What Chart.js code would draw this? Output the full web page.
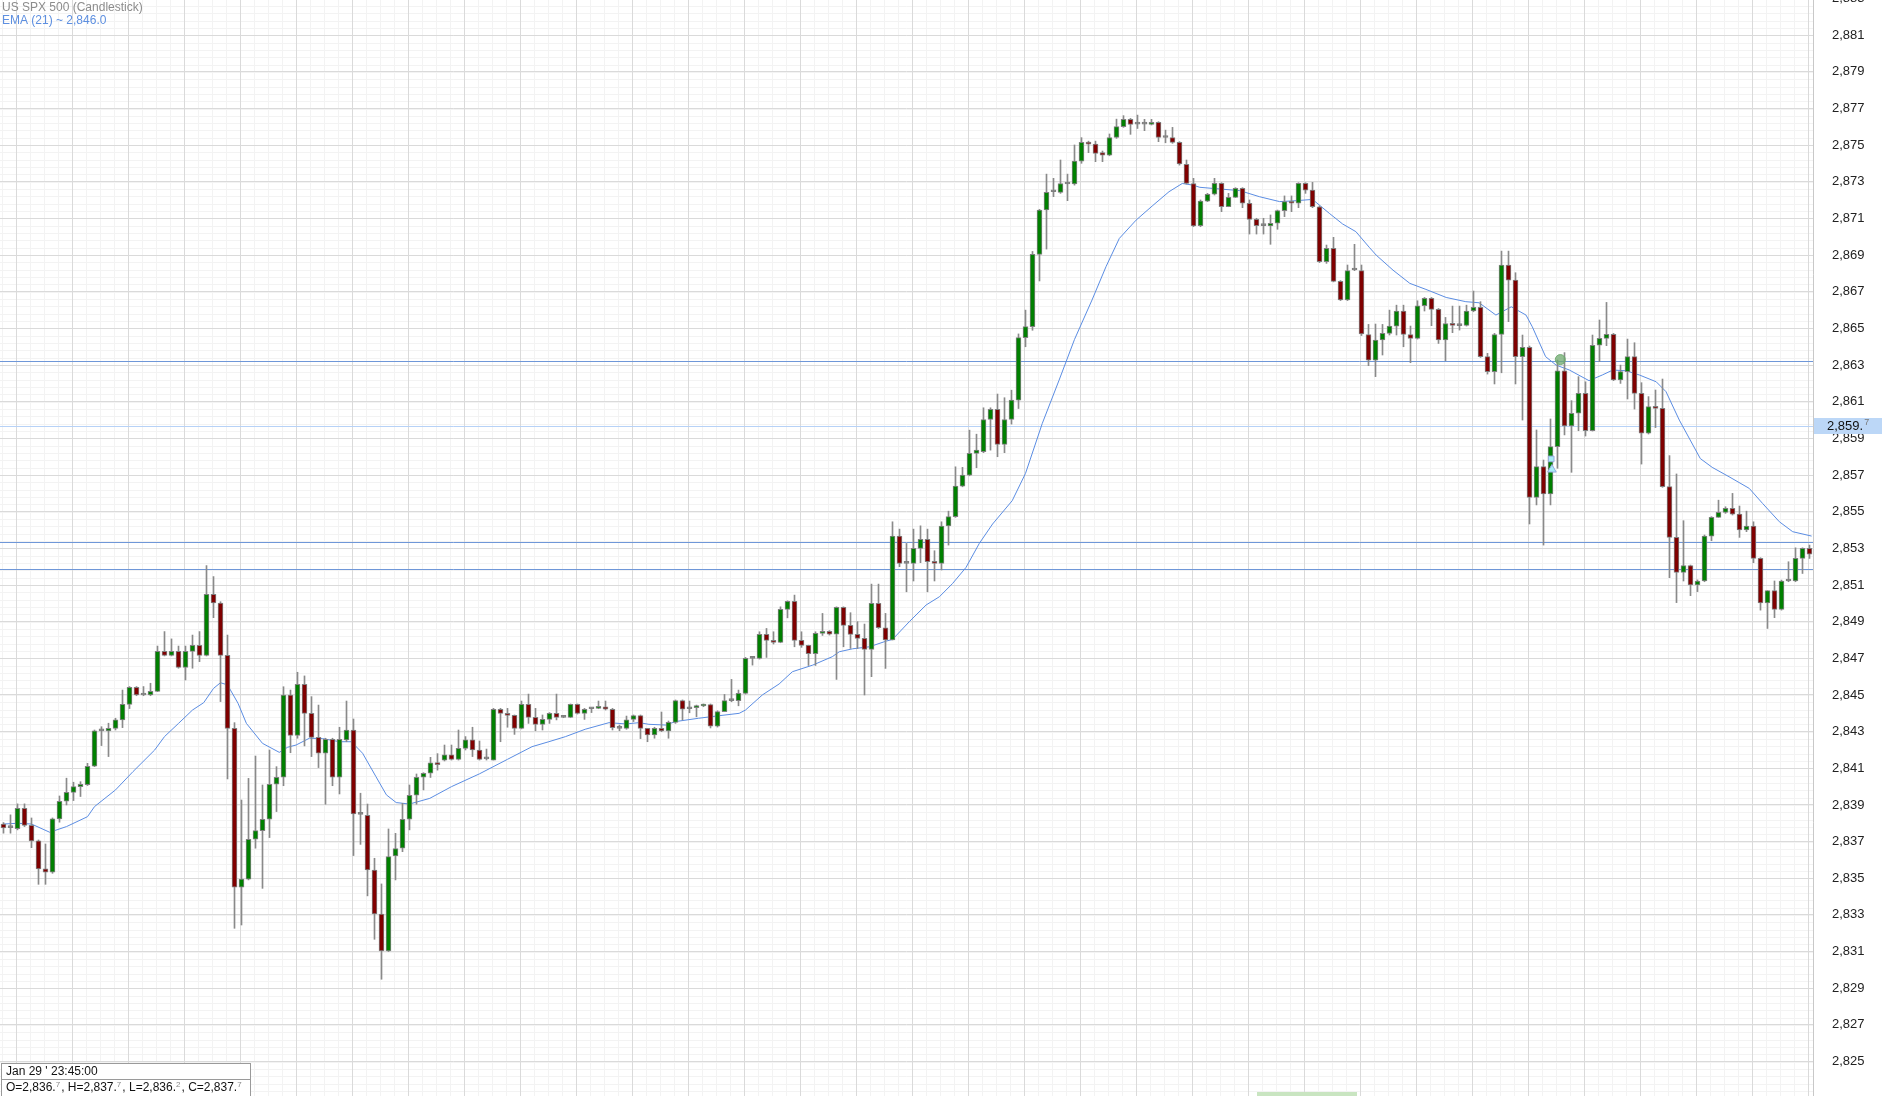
<!DOCTYPE html>
<html>
<head>
<meta charset="utf-8">
<script src="https://cdn.jsdelivr.net/npm/chart.js@4.4.0/dist/chart.umd.min.js"></script>
<style>
html, body { margin: 0; padding: 0; background: #fff; overflow: hidden; }
canvas { display: block; }
</style>
</head>
<body>
<canvas id="chartSpx" width="1882" height="1096"></canvas>
<script>
// US SPX 500, 15 min candles
var opens = [
	2837.96, 2837.76, 2837.71, 2838.82, 2837.89, 2837.04, 2835.51, 2835.33, 2838.24, 2839.2,
	2839.69, 2840.0, 2840.11, 2841.11, 2843.04, 2843.04, 2843.18, 2843.64, 2844.49, 2845.42,
	2845.0, 2845.0, 2845.2, 2847.38, 2847.16, 2847.38, 2846.51, 2847.38, 2847.71, 2847.16,
	2850.49, 2850.02, 2847.16, 2843.18, 2834.51, 2834.95, 2837.13, 2837.6, 2838.22, 2840.13,
	2840.51, 2845.0, 2842.8, 2845.58, 2844.0, 2842.69, 2841.82, 2842.58, 2840.51, 2842.55,
	2843.09, 2838.49, 2838.44, 2835.45, 2833.05, 2831.04, 2836.22, 2836.64, 2838.22, 2839.53,
	2840.51, 2840.73, 2841.3, 2841.45, 2841.73, 2841.49, 2842.09, 2842.55, 2842.0, 2841.51,
	2841.45, 2844.22, 2844.0, 2843.89, 2843.18, 2844.49, 2843.78, 2843.4, 2843.67, 2844.0,
	2843.78, 2843.78, 2844.49, 2844.0, 2844.25, 2844.27, 2844.36, 2844.22, 2843.18, 2843.18,
	2843.67, 2843.87, 2843.18, 2842.82, 2843.18, 2843.04, 2843.51, 2844.69, 2844.25, 2844.31,
	2844.4, 2844.47, 2843.3, 2844.09, 2844.69, 2844.69, 2845.09, 2847.0, 2847.0, 2848.31,
	2847.98, 2847.87, 2849.67, 2850.11, 2847.98, 2847.71, 2847.25, 2848.36, 2848.47, 2848.32,
	2849.78, 2848.8, 2848.31, 2848.09, 2847.49, 2850.0, 2848.67, 2848.0, 2853.67, 2852.18,
	2852.18, 2853.0, 2853.49, 2852.27, 2852.18, 2854.22, 2854.73, 2856.4, 2857.0, 2858.18,
	2858.27, 2860.03, 2860.58, 2858.67, 2860.03, 2861.09, 2864.5, 2865.1, 2869.04, 2871.46,
	2872.46, 2872.42, 2872.88, 2872.88, 2874.13, 2875.15, 2875.06, 2874.59, 2874.46, 2875.42,
	2876.01, 2876.41, 2876.15, 2876.15, 2876.13, 2876.24, 2875.42, 2875.42, 2875.15, 2873.95,
	2872.91, 2870.61, 2871.95, 2872.32, 2872.92, 2871.64, 2872.15, 2872.64, 2871.83, 2870.95,
	2870.61, 2870.59, 2870.74, 2871.43, 2871.92, 2871.83, 2872.92, 2872.55, 2871.64, 2868.64,
	2869.37, 2867.57, 2866.55, 2868.19, 2868.15, 2864.67, 2863.27, 2864.37, 2864.73, 2865.13,
	2865.95, 2864.67, 2864.46, 2866.24, 2866.64, 2866.04, 2864.37, 2865.27, 2865.15, 2865.17,
	2865.95, 2866.15, 2863.46, 2862.64, 2864.67, 2868.46, 2867.64, 2863.46, 2863.97, 2855.78,
	2857.46, 2855.97, 2858.55, 2862.68, 2859.68, 2860.37, 2861.46, 2859.42, 2864.08, 2864.46,
	2864.68, 2862.19, 2862.64, 2863.46, 2861.46, 2859.28, 2860.73, 2860.64, 2856.37, 2853.6,
	2851.69, 2852.06, 2851.0, 2851.22, 2853.67, 2854.69, 2854.96, 2855.18, 2854.87, 2854.0,
	2854.22, 2852.45, 2850.03, 2850.69, 2849.67, 2851.22, 2851.22, 2852.45, 2853.0
];
var highs = [
	2838.04, 2838.46, 2839.06, 2839.06, 2838.29, 2837.09, 2836.87, 2838.29, 2839.49, 2840.46,
	2840.24, 2840.27, 2841.27, 2843.09, 2843.27, 2843.46, 2843.73, 2845.27, 2845.46, 2845.46,
	2845.46, 2845.64, 2847.67, 2848.46, 2848.06, 2847.67, 2847.67, 2848.27, 2848.46, 2852.06,
	2851.46, 2850.09, 2848.27, 2843.49, 2839.27, 2840.45, 2841.67, 2840.09, 2842.0, 2841.09,
	2845.45, 2845.27, 2846.24, 2846.04, 2844.91, 2844.45, 2842.64, 2842.64, 2843.24, 2844.67,
	2843.69, 2839.64, 2839.05, 2836.09, 2834.69, 2837.69, 2837.45, 2839.09, 2840.09, 2840.69,
	2840.76, 2841.6, 2841.8, 2842.27, 2842.27, 2843.09, 2842.73, 2843.24, 2842.49, 2842.05,
	2844.27, 2844.27, 2844.27, 2843.91, 2844.67, 2845.05, 2844.27, 2843.91, 2844.04, 2845.05,
	2843.85, 2844.51, 2844.51, 2844.27, 2844.31, 2844.67, 2844.67, 2844.27, 2843.36, 2843.85,
	2843.91, 2843.91, 2843.18, 2843.24, 2844.07, 2843.58, 2844.73, 2844.73, 2844.67, 2844.45,
	2844.51, 2844.51, 2844.14, 2845.03, 2845.85, 2845.27, 2847.05, 2847.09, 2848.45, 2848.63,
	2848.45, 2849.81, 2850.14, 2850.45, 2848.45, 2847.72, 2848.45, 2849.45, 2848.51, 2849.81,
	2849.81, 2849.49, 2849.0, 2848.87, 2851.05, 2851.05, 2849.45, 2854.45, 2854.05, 2853.27,
	2854.05, 2854.23, 2854.05, 2852.87, 2854.45, 2855.03, 2857.45, 2857.42, 2859.45, 2859.23,
	2860.67, 2860.67, 2861.42, 2861.22, 2861.63, 2864.7, 2866.0, 2869.2, 2871.5, 2873.42,
	2873.19, 2874.19, 2873.42, 2875.01, 2875.41, 2875.22, 2875.22, 2874.68, 2875.61, 2876.42,
	2876.61, 2876.46, 2876.64, 2876.41, 2876.41, 2876.28, 2875.82, 2875.97, 2875.19, 2874.19,
	2873.19, 2872.01, 2872.37, 2873.19, 2872.95, 2872.37, 2872.68, 2872.68, 2872.01, 2871.01,
	2871.01, 2871.19, 2871.46, 2872.23, 2872.23, 2872.95, 2872.95, 2872.97, 2871.68, 2869.55,
	2869.97, 2867.61, 2868.46, 2869.59, 2868.46, 2865.22, 2865.24, 2865.22, 2866.0, 2866.27,
	2866.27, 2865.13, 2866.51, 2866.69, 2866.69, 2866.09, 2865.6, 2866.22, 2866.22, 2866.27,
	2867.04, 2866.46, 2863.64, 2864.73, 2869.22, 2869.22, 2868.04, 2864.64, 2864.04, 2859.46,
	2857.82, 2860.06, 2863.28, 2863.68, 2861.06, 2862.37, 2862.09, 2864.64, 2865.46, 2866.42,
	2864.73, 2863.0, 2864.42, 2864.22, 2862.04, 2861.28, 2861.64, 2862.24, 2858.06, 2857.06,
	2854.51, 2852.09, 2851.28, 2853.73, 2854.73, 2855.63, 2855.27, 2856.0, 2855.31, 2855.03,
	2854.45, 2852.49, 2850.69, 2851.22, 2851.27, 2852.27, 2853.03, 2853.03, 2853.18
];
var lows = [
	2837.46, 2837.46, 2837.64, 2837.82, 2836.67, 2834.67, 2834.67, 2835.27, 2838.06, 2839.0,
	2839.24, 2839.46, 2840.06, 2841.09, 2842.24, 2841.64, 2843.09, 2843.22, 2844.26, 2844.96,
	2844.96, 2844.96, 2845.18, 2847.13, 2847.13, 2846.46, 2845.82, 2846.46, 2846.82, 2847.13,
	2849.22, 2844.64, 2840.42, 2832.27, 2832.45, 2834.91, 2836.64, 2834.45, 2837.22, 2838.64,
	2840.05, 2841.85, 2842.64, 2842.22, 2841.64, 2841.04, 2839.04, 2840.05, 2839.6, 2842.45,
	2836.24, 2836.85, 2834.04, 2831.67, 2829.49, 2831.0, 2834.91, 2836.45, 2837.64, 2839.04,
	2839.82, 2840.5, 2840.9, 2841.4, 2841.45, 2841.45, 2842.0, 2841.64, 2841.45, 2841.45,
	2841.45, 2842.45, 2843.24, 2842.85, 2843.15, 2843.45, 2843.05, 2843.09, 2843.45, 2843.64,
	2843.76, 2843.76, 2843.96, 2843.67, 2844.04, 2844.25, 2844.18, 2843.09, 2843.05, 2843.13,
	2843.55, 2842.62, 2842.45, 2842.64, 2843.0, 2842.64, 2843.45, 2843.64, 2844.03, 2843.81,
	2844.36, 2843.2, 2843.25, 2844.12, 2844.63, 2844.41, 2845.05, 2846.63, 2846.96, 2847.05,
	2847.78, 2847.85, 2849.21, 2847.63, 2847.6, 2846.61, 2846.61, 2848.25, 2848.27, 2845.85,
	2847.63, 2847.54, 2847.54, 2845.0, 2846.0, 2848.63, 2846.45, 2848.0, 2852.0, 2850.63,
	2851.22, 2852.22, 2850.63, 2851.22, 2851.82, 2853.18, 2854.69, 2856.36, 2856.96, 2857.4,
	2858.22, 2858.36, 2858.0, 2858.22, 2859.78, 2860.63, 2864.0, 2864.9, 2867.59, 2869.33,
	2872.19, 2872.37, 2871.97, 2872.82, 2874.01, 2874.59, 2874.1, 2874.1, 2874.42, 2875.37,
	2875.97, 2875.59, 2875.91, 2875.79, 2876.1, 2875.19, 2875.13, 2875.1, 2873.91, 2872.88,
	2870.55, 2870.55, 2871.92, 2872.28, 2871.37, 2871.64, 2872.14, 2871.59, 2870.15, 2870.15,
	2870.15, 2869.59, 2870.41, 2871.1, 2871.37, 2871.59, 2872.37, 2871.59, 2868.59, 2868.55,
	2867.54, 2866.52, 2866.52, 2868.15, 2864.61, 2862.97, 2862.37, 2863.55, 2864.64, 2864.64,
	2864.0, 2863.13, 2864.42, 2865.95, 2865.15, 2864.18, 2863.24, 2864.77, 2864.91, 2865.13,
	2865.91, 2863.42, 2862.51, 2861.97, 2862.58, 2865.37, 2861.97, 2860.0, 2854.33, 2855.37,
	2853.18, 2855.37, 2857.37, 2859.19, 2857.15, 2859.42, 2859.13, 2859.4, 2863.19, 2864.06,
	2862.15, 2862.0, 2861.15, 2860.6, 2857.6, 2859.24, 2859.59, 2856.33, 2851.4, 2850.04,
	2851.22, 2850.42, 2850.64, 2851.18, 2853.42, 2854.69, 2854.91, 2854.82, 2853.6, 2853.91,
	2852.22, 2849.63, 2848.63, 2849.22, 2849.63, 2851.18, 2851.18, 2851.63, 2852.45
];
var closes = [
	2837.75, 2837.76, 2838.82, 2837.89, 2837.04, 2835.51, 2835.33, 2838.24, 2839.2, 2839.69,
	2840.0, 2840.13, 2841.11, 2843.04, 2843.04, 2843.18, 2843.64, 2844.49, 2845.42, 2845.0,
	2845.0, 2845.2, 2847.38, 2847.16, 2847.38, 2846.51, 2847.38, 2847.71, 2847.16, 2850.49,
	2850.02, 2847.16, 2843.18, 2834.51, 2834.95, 2837.13, 2837.6, 2838.22, 2840.13, 2840.51,
	2845.0, 2842.8, 2845.58, 2844.0, 2842.69, 2841.82, 2842.58, 2840.51, 2842.58, 2843.09,
	2838.51, 2838.49, 2835.45, 2833.05, 2831.04, 2836.18, 2836.62, 2838.22, 2839.53, 2840.51,
	2840.73, 2841.3, 2841.2, 2841.73, 2841.49, 2842.09, 2842.55, 2842.0, 2841.49, 2841.51,
	2844.22, 2844.0, 2843.89, 2843.18, 2844.49, 2843.78, 2843.4, 2843.67, 2844.0, 2843.78,
	2843.78, 2844.49, 2844.0, 2844.22, 2844.25, 2844.38, 2844.22, 2843.22, 2843.18, 2843.64,
	2843.87, 2843.18, 2842.82, 2843.18, 2843.04, 2843.51, 2844.69, 2844.22, 2844.25, 2844.4,
	2844.47, 2843.3, 2844.09, 2844.69, 2844.69, 2845.09, 2847.0, 2847.0, 2848.31, 2847.98,
	2847.87, 2849.67, 2850.11, 2847.98, 2847.71, 2847.25, 2848.36, 2848.47, 2848.32, 2849.78,
	2848.8, 2848.31, 2848.09, 2847.49, 2850.0, 2848.67, 2848.0, 2853.67, 2852.18, 2852.18,
	2853.0, 2853.49, 2852.27, 2852.18, 2854.22, 2854.73, 2856.4, 2857.0, 2858.18, 2858.36,
	2860.03, 2860.58, 2858.67, 2860.03, 2861.09, 2864.5, 2865.1, 2869.04, 2871.46, 2872.42,
	2872.46, 2872.91, 2872.88, 2874.13, 2875.15, 2875.06, 2874.55, 2874.46, 2875.42, 2876.01,
	2876.41, 2876.13, 2876.15, 2876.15, 2876.24, 2875.42, 2875.42, 2875.15, 2873.97, 2872.91,
	2870.59, 2871.95, 2872.32, 2872.92, 2871.64, 2872.15, 2872.64, 2871.83, 2870.95, 2870.61,
	2870.61, 2870.74, 2871.43, 2871.92, 2871.83, 2872.92, 2872.55, 2871.64, 2868.64, 2869.37,
	2867.57, 2866.55, 2868.15, 2868.19, 2864.7, 2863.27, 2864.37, 2864.73, 2865.13, 2865.95,
	2864.67, 2864.46, 2866.24, 2866.64, 2866.04, 2864.37, 2865.27, 2865.17, 2865.15, 2865.95,
	2866.15, 2863.46, 2862.64, 2864.67, 2868.46, 2867.64, 2863.46, 2863.97, 2855.78, 2857.46,
	2855.97, 2858.55, 2862.68, 2859.68, 2860.37, 2861.46, 2859.42, 2864.08, 2864.46, 2864.68,
	2862.19, 2862.64, 2863.46, 2861.46, 2859.28, 2860.73, 2860.64, 2856.37, 2853.6, 2851.69,
	2852.06, 2851.0, 2851.22, 2853.67, 2854.69, 2854.96, 2855.18, 2854.87, 2854.0, 2854.22,
	2852.45, 2850.03, 2850.69, 2849.67, 2851.22, 2851.22, 2852.45, 2853.0, 2852.69
];

// EMA(21) read at candle positions (fractional = between candles)
var emaAt = [
	0, 2, 4, 6.6, 9, 12, 13, 16, 18.5, 21.6, 23, 25, 27, 28.6, 30, 31, 32, 33.5, 34.7, 37,
	39.4, 40.6, 41.8, 43.7, 45.6, 48, 49.7, 51.3, 53.2, 54.7, 56.1, 58, 60.9, 64, 68, 72,
	75.5, 77.9, 80.3, 83.1, 86.5, 88.9, 90.8, 92.2, 94.6, 96, 99.3, 101.8, 105.1, 106,
	108.4, 110.8, 112.7, 115.6, 118.4, 119.4, 121.3, 123.7, 126.1, 127, 129.4, 131.8,
	133.7, 135.6, 137.5, 139.4, 141.3, 144.1, 146, 148.4, 150.8, 153, 155.5, 157.5, 159.4,
	161.8, 164.1, 166.5, 168.4, 169.9, 170.9, 173.7, 176.6, 179.4, 182.3, 184.7, 187,
	189.4, 191.3, 193.2, 195.1, 196.1, 198.5, 200.9, 203.2, 206.1, 208.9, 210.8, 213.2,
	215.4, 217.5, 218.4, 220.3, 221.8, 223.7, 226.5, 228.4, 229.9, 231.8, 233.7, 236.1,
	237.5, 239.4, 242.4, 244.1, 246.5, 249.4, 251.3, 253.7, 255.6, 258.3
];
var emaValues = [
	2837.96, 2838.0, 2837.96, 2837.51, 2837.82, 2838.36, 2838.91, 2839.82, 2840.82, 2842.0,
	2842.73, 2843.45, 2844.18, 2844.58, 2845.36, 2845.67, 2845.55, 2844.55, 2843.45, 2842.36,
	2841.87, 2842.15, 2842.27, 2842.64, 2842.62, 2842.45, 2842.45, 2841.82, 2840.55, 2839.55,
	2839.13, 2839.05, 2839.36, 2840.0, 2840.7, 2841.49,
	2842.18, 2842.45, 2842.73, 2843.13, 2843.49, 2843.42, 2843.49, 2843.4, 2843.36, 2843.55,
	2843.73, 2843.85, 2844.0, 2844.18,
	2845.0, 2845.6, 2846.27, 2846.63, 2847.09, 2847.36, 2847.52, 2847.63, 2847.94, 2848.03,
	2849.0, 2849.91,
	2850.36, 2851.09, 2851.96, 2853.27, 2854.33, 2855.6, 2857.09, 2859.82, 2862.18, 2864.4,
	2866.55, 2868.37, 2869.91,
	2870.91, 2871.68, 2872.46, 2872.91, 2872.82, 2872.7, 2872.61, 2872.52, 2872.19, 2871.92,
	2871.97, 2872.04,
	2871.28, 2870.7, 2870.28, 2869.43, 2869.0, 2868.18, 2867.46, 2867.13, 2866.69, 2866.46,
	2866.4, 2865.73,
	2866.18, 2865.73, 2865.09, 2863.46, 2863.0, 2862.73, 2862.15, 2862.46, 2862.73, 2862.69,
	2862.46, 2862.09,
	2861.55, 2860.0, 2857.9, 2857.42, 2856.91, 2856.27, 2855.45, 2854.45, 2853.91, 2853.67
];

var categories = [];
for (var i = 0; i < opens.length; i++) {
	categories.push('' + i);
}

var yTicks = [2825, 2827, 2829, 2831, 2833, 2835, 2837, 2839, 2841, 2843, 2845, 2847, 2849,
	2851, 2853, 2855, 2857, 2859, 2861, 2863, 2865, 2867, 2869, 2871, 2873, 2875, 2877,
	2879, 2881, 2883];
var yMin = 2823.12;
var yMax = 2882.92;

// horizontal levels drawn on the chart
var levelLines = [2863.2, 2853.33, 2851.9];
var lastPrice = 2859.7;

// markers near the right side
var circleX = [222.4], circleY = [2863.3];
var squareX = [221.1], squareY = [2857.88];
var triangleX = [221.2], triangleY = [2857.3];

var upColor = '#008000';
var downColor = '#800000';
var flatColor = '#808080';

var bodyColors = [];
for (var i = 0; i < opens.length; i++) {
	if (closes[i] > opens[i]) bodyColors.push(upColor);
	else if (closes[i] < opens[i]) bodyColors.push(downColor);
	else bodyColors.push(flatColor);
}

var toPoints = function(xs, ys) {
	var pts = [];
	for (var i = 0; i < xs.length; i++) pts.push({x: xs[i], y: ys[i]});
	return pts;
};

var fmt = function(v) {
	var s = '' + Math.round(v);
	return s.slice(0, 1) + ',' + s.slice(1);
};

var FONT = '"Liberation Sans", Arial, sans-serif';

var decorations = {
	id: 'decorations',
	beforeDraw: function(chart) {
		var ctx = chart.ctx, a = chart.chartArea;
		var xl = chart.scales.xl, y = chart.scales.y;
		ctx.save();
		ctx.fillStyle = '#ffffff';
		ctx.fillRect(0, 0, chart.width, chart.height);
		// faint minor grid
		ctx.strokeStyle = '#f3f3f3';
		ctx.lineWidth = 1;
		ctx.beginPath();
		for (var v = 2823; v < 2884; v += 0.4) {
			var py = Math.round(y.getPixelForValue(v)) + 0.5;
			ctx.moveTo(a.left, py); ctx.lineTo(a.right, py);
		}
		for (var g = 1.74 - 8; g < 259; g += 2) {
			var px = Math.round(xl.getPixelForValue(g)) + 0.5;
			if (px < a.left || px > a.right) continue;
			ctx.moveTo(px, a.top); ctx.lineTo(px, a.bottom);
		}
		ctx.stroke();
		// major vertical grid, every 8 candles
		ctx.strokeStyle = '#dadada';
		ctx.beginPath();
		for (var g = 1.74; g < 259; g += 8) {
			var px = Math.round(xl.getPixelForValue(g)) + 0.5;
			ctx.moveTo(px, a.top); ctx.lineTo(px, a.bottom);
		}
		ctx.stroke();
		ctx.restore();
	},
	beforeDatasetsDraw: function(chart) {
		var ctx = chart.ctx, a = chart.chartArea, y = chart.scales.y;
		ctx.save();
		ctx.lineWidth = 1;
		ctx.strokeStyle = '#b7d2f7';
		var py = Math.round(y.getPixelForValue(lastPrice)) + 0.5;
		ctx.beginPath(); ctx.moveTo(a.left, py); ctx.lineTo(a.right, py); ctx.stroke();
		ctx.strokeStyle = '#6f97d8';
		for (var i = 0; i < levelLines.length; i++) {
			py = Math.round(y.getPixelForValue(levelLines[i])) + 0.5;
			ctx.beginPath(); ctx.moveTo(a.left, py); ctx.lineTo(a.right, py); ctx.stroke();
		}
		ctx.restore();
	},
	afterDraw: function(chart) {
		var ctx = chart.ctx, a = chart.chartArea, y = chart.scales.y;
		ctx.save();
		ctx.textBaseline = 'middle';

		// top label that falls half outside the plot
		ctx.font = '13px ' + FONT;
		ctx.fillStyle = '#222';
		ctx.textAlign = 'left';
		ctx.fillText(fmt(2883), a.right + 19, y.getPixelForValue(2883));

		// last price box on the axis
		var py = y.getPixelForValue(lastPrice);
		ctx.fillStyle = '#bcd7f7';
		ctx.fillRect(a.right + 1, Math.round(py) - 8, chart.width - a.right - 1, 16);
		ctx.fillStyle = '#111';
		ctx.textAlign = 'left';
		ctx.fillText('2,859.', a.right + 14, py + 1);
		var w = ctx.measureText('2,859.').width;
		ctx.font = '9px ' + FONT;
		ctx.fillStyle = '#777';
		ctx.fillText('7', a.right + 14 + w + 1, py - 3);

		// titles
		ctx.font = '12px ' + FONT;
		ctx.textAlign = 'left';
		ctx.fillStyle = '#8c8c8c';
		ctx.fillText('US SPX 500 (Candlestick)', 2, 8);
		ctx.fillStyle = '#5d8fe0';
		ctx.fillText('EMA (21) ~ 2,846.0', 2, 21);

		// info box bottom left
		ctx.fillStyle = '#ffffff';
		ctx.fillRect(1, 1063, 250, 33);
		ctx.strokeStyle = '#9a9a9a';
		ctx.lineWidth = 1;
		ctx.strokeRect(1.5, 1063.5, 249, 40);
		ctx.beginPath(); ctx.moveTo(1.5, 1079.5); ctx.lineTo(250.5, 1079.5); ctx.stroke();
		ctx.fillStyle = '#111';
		ctx.font = '12px ' + FONT;
		ctx.fillText("Jan 29 ' 23:45:00", 6, 1071.5);
		var parts = [['O=2,836.', '7'], [', H=2,837.', '7'], [', L=2,836.', '2'], [', C=2,837.', '7']];
		var x = 6;
		for (var i = 0; i < parts.length; i++) {
			ctx.font = '12px ' + FONT;
			ctx.fillStyle = '#111';
			ctx.fillText(parts[i][0], x, 1088);
			x += ctx.measureText(parts[i][0]).width;
			ctx.font = '8px ' + FONT;
			ctx.fillStyle = '#888';
			ctx.fillText(parts[i][1], x, 1084.5);
			x += ctx.measureText(parts[i][1]).width + 1;
		}

		// scroll bar hint at the bottom
		ctx.fillStyle = '#c9e5c1';
		ctx.fillRect(1257, 1092, 100, 4);
		ctx.restore();
	}
};

var ctx = document.getElementById('chartSpx');

var spxChart = new Chart(ctx, {
	type: 'bar',
	data: {
		labels: categories,
		datasets: [
			{
				type: 'line',
				label: 'EMA (21)',
				xAxisID: 'xl',
				data: toPoints(emaAt, emaValues),
				borderColor: '#5b8de3',
				borderWidth: 1,
				pointRadius: 0,
				tension: 0,
				fill: false,
				order: 3
			},
			{
				label: 'wick',
				data: lows.map(function(l, i) { return [l, highs[i]]; }),
				backgroundColor: '#8a8a8a',
				barThickness: 1,
				grouped: false,
				order: 2
			},
			{
				label: 'body',
				data: opens.map(function(o, i) { return [o, closes[i]]; }),
				backgroundColor: bodyColors,
				borderColor: '#808080',
				borderWidth: 1,
				borderSkipped: false,
				barThickness: 5,
				minBarLength: 2,
				grouped: false,
				order: 1
			},
			{
				type: 'scatter',
				xAxisID: 'xl',
				data: toPoints(circleX, circleY),
				pointStyle: 'circle',
				pointRadius: 5,
				backgroundColor: 'rgba(110,170,110,0.75)',
				borderColor: 'rgba(110,170,110,0.9)',
				order: 0
			},
			{
				type: 'scatter',
				xAxisID: 'xl',
				data: toPoints(triangleX, triangleY),
				pointStyle: 'triangle',
				pointRadius: 5,
				backgroundColor: '#a8ecf7',
				borderColor: '#9ad',
				borderWidth: 1,
				order: 0
			},
			{
				type: 'scatter',
				xAxisID: 'xl',
				data: toPoints(squareX, squareY),
				pointStyle: 'rect',
				pointRadius: 4,
				backgroundColor: '#a8ecf7',
				borderColor: '#9ad',
				borderWidth: 1,
				order: 0
			}
		]
	},
	options: {
		responsive: false,
		animation: false,
		devicePixelRatio: 1,
		layout: { padding: 0, autoPadding: false },
		plugins: {
			legend: { display: false },
			tooltip: { enabled: false }
		},
		scales: {
			x: {
				type: 'category',
				display: false,
				offset: true
			},
			xl: {
				type: 'linear',
				display: false,
				offset: false,
				grid: { offset: false },
				min: -0.5,
				max: 258.5
			},
			y: {
				type: 'linear',
				position: 'right',
				min: yMin,
				max: yMax,
				afterBuildTicks: function(scale) {
					scale.ticks = yTicks.filter(function(v) { return v <= yMax; }).map(function(v) { return {value: v}; });
				},
				afterFit: function(scale) {
					scale.width = 69;
					scale.paddingTop = 0;
					scale.paddingBottom = 0;
				},
				grid: { color: '#dadada', drawTicks: false },
				border: { display: true, color: '#c8c8c8' },
				ticks: {
					autoSkip: false,
					padding: 19,
					color: '#222',
					font: { family: FONT, size: 13 },
					callback: function(v) { return fmt(v); }
				}
			}
		}
	},
	plugins: [decorations]
});
</script>
</body>
</html>
